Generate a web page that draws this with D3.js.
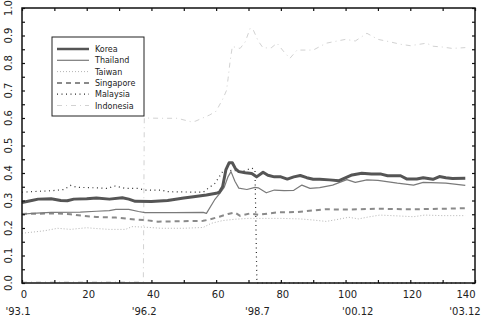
<!DOCTYPE html>
<html>
<head>
<meta charset="utf-8">
<script src="https://cdn.jsdelivr.net/npm/d3@7/dist/d3.min.js"></script>
<style>
  html, body { margin: 0; padding: 0; background: #fff; }
  svg { display: block; }
  text { font-family: "DejaVu Sans", sans-serif; fill: #222; }
</style>
</head>
<body>
<svg id="chart" width="485" height="322"></svg>
<script>
// Monthly index values, month 0 = 1993.1
const korea = [[0,0.293],[3,0.300],[5,0.305],[9,0.306],[12,0.300],[14,0.299],[16,0.305],[20,0.306],[23,0.309],[27,0.305],[31,0.310],[33,0.305],[35,0.297],[40,0.296],[45,0.300],[50,0.309],[53,0.314],[57,0.320],[60,0.326],[61,0.330],[62,0.350],[63,0.411],[64,0.437],[65,0.437],[66,0.415],[67,0.405],[69,0.401],[71,0.398],[72.5,0.386],[74.5,0.403],[76,0.392],[78,0.386],[80,0.386],[82,0.378],[84,0.386],[86,0.391],[88,0.383],[90,0.377],[92,0.377],[95,0.375],[98,0.372],[102,0.393],[105,0.399],[108,0.396],[111,0.396],[113,0.390],[117,0.390],[119,0.378],[122,0.378],[124,0.383],[127,0.377],[129,0.387],[131,0.383],[133,0.380],[137,0.381]];
const thailand = [[0,0.250],[3,0.253],[9,0.257],[18,0.258],[23,0.261],[27,0.263],[29,0.268],[33,0.268],[36,0.260],[38,0.256],[47,0.256],[56,0.257],[57,0.253],[59.5,0.302],[61,0.324],[62.5,0.348],[63.7,0.387],[64.6,0.405],[65.8,0.370],[67,0.345],[69.5,0.340],[72,0.348],[73,0.346],[75.5,0.328],[78,0.338],[81,0.336],[84,0.337],[86.5,0.356],[89,0.344],[92,0.347],[96,0.356],[100.4,0.376],[103,0.366],[106.6,0.375],[110,0.373],[116,0.363],[121,0.356],[124,0.366],[131,0.363],[137,0.355]];
const taiwan = [[0,0.181],[4,0.186],[7,0.190],[11,0.199],[15,0.195],[20,0.201],[23,0.198],[27,0.195],[32,0.195],[34,0.205],[38,0.203],[43,0.199],[50,0.199],[56,0.202],[58.5,0.217],[62,0.227],[66,0.232],[70,0.235],[80,0.235],[86,0.233],[90,0.229],[94,0.224],[97,0.230],[101,0.239],[104,0.233],[107,0.240],[110.6,0.247],[116,0.244],[121,0.241],[124.5,0.247],[130,0.245],[137,0.245]];
const singapore = [[0,0.251],[4,0.252],[10,0.253],[15,0.250],[19,0.244],[23,0.240],[29,0.238],[35,0.231],[38,0.229],[42,0.223],[46,0.224],[56,0.226],[58,0.231],[61,0.241],[63.7,0.251],[65.8,0.256],[67.4,0.244],[70.5,0.253],[73,0.248],[79,0.257],[85,0.258],[93.6,0.268],[100,0.267],[110,0.270],[120,0.268],[130,0.270],[137,0.272]];
const malaysia = [[0,0.330],[3,0.332],[9.6,0.336],[13,0.340],[15,0.355],[17,0.348],[23,0.346],[26.6,0.344],[28.5,0.353],[32,0.344],[36,0.344],[38,0.338],[43,0.338],[45,0.332],[56,0.330],[57.5,0.344],[59.6,0.362],[61,0.387],[62,0.405],[65,0.410],[68,0.405],[71,0.418],[72,0.412],[72.6,0],[137,0]];
const indonesia = [[0,0.004],[37.5,0.004],[37.8,0.600],[42.6,0.599],[48,0.599],[52,0.587],[53.5,0.588],[58,0.611],[60,0.625],[62,0.668],[63.2,0.700],[63.7,0.744],[64.3,0.805],[65,0.860],[67.4,0.853],[69,0.877],[70.5,0.926],[71.4,0.922],[73,0.880],[74.5,0.855],[77,0.855],[78.8,0.872],[81,0.840],[82.8,0.817],[85,0.847],[90,0.847],[94,0.872],[100,0.886],[103,0.880],[106.6,0.908],[110,0.886],[113.7,0.877],[117,0.868],[120,0.863],[125,0.872],[127,0.861],[130,0.858],[133,0.853],[137,0.856]];

const xTicks = [0, 20, 40, 60, 80, 100, 120, 140];
const yTicks = [0.0, 0.1, 0.2, 0.3, 0.4, 0.5, 0.6, 0.7, 0.8, 0.9, 1.0];
const dateLabels = ["'93.1", "'96.2", "'98.7", "'00.12", "'03.12"];
const dateLabelAt = [0, 39, 74, 105, 138.5];

const series = [
  { name: "Korea",     data: korea,     color: "#555555", width: 3,   dash: null },
  { name: "Thailand",  data: thailand,  color: "#7a7a7a", width: 1.2, dash: null },
  { name: "Taiwan",    data: taiwan,    color: "#b4b4b4", width: 1,   dash: "1,2" },
  { name: "Singapore", data: singapore, color: "#8a8a8a", width: 2,   dash: "5,4" },
  { name: "Malaysia",  data: malaysia,  color: "#2a2a2a", width: 1.2, dash: "1,3.5" },
  { name: "Indonesia", data: indonesia, color: "#d2d2d2", width: 1,   dash: "5,4,1,4" }
];

const plotL = 22, plotR = 475, plotT = 8, plotB = 283;
const svg = d3.select("#chart");

const x = d3.scaleLinear().domain([0, 140]).range([plotL, plotR]);
const y = d3.scaleLinear().domain([0, 1]).range([plotB, plotT]);

// series lines
const line = d3.line().x(d => x(d[0])).y(d => y(d[1]));
svg.append("g").selectAll("path").data(series.slice().reverse()).join("path")
  .attr("d", s => line(s.data))
  .attr("fill", "none")
  .attr("stroke", s => s.color)
  .attr("stroke-width", s => s.width)
  .attr("stroke-dasharray", s => s.dash)
  .attr("stroke-linejoin", "round");

// inward ticks on all four sides
const minorY = d3.range(0, 1.0001, 0.05);
const minorX = d3.range(0, 140.001, 10);
svg.append("g").attr("transform", `translate(${plotL},0)`)
  .call(d3.axisRight(y).tickValues(minorY).tickSize(3).tickFormat(""))
  .call(g => g.select(".domain").remove());
svg.append("g").attr("transform", `translate(${plotR},0)`)
  .call(d3.axisLeft(y).tickValues(minorY).tickSize(3).tickFormat(""))
  .call(g => g.select(".domain").remove());
svg.append("g").attr("transform", `translate(0,${plotT})`)
  .call(d3.axisBottom(x).tickValues(minorX).tickSize(3).tickFormat(""))
  .call(g => g.select(".domain").remove());
svg.append("g").attr("transform", `translate(0,${plotB})`)
  .call(d3.axisTop(x).tickValues(minorX).tickSize(3).tickFormat(""))
  .call(g => g.select(".domain").remove());
svg.selectAll(".tick line").attr("stroke", "#111").attr("stroke-width", 1.2);

// frame
svg.append("rect")
  .attr("x", plotL).attr("y", plotT)
  .attr("width", plotR - plotL).attr("height", plotB - plotT)
  .attr("fill", "none").attr("stroke", "#111").attr("stroke-width", 1.5);

// y tick labels, rotated
svg.append("g").selectAll("text").data(yTicks).join("text")
  .attr("transform", d => `translate(12,${y(d)}) rotate(-90)`)
  .attr("text-anchor", "middle")
  .attr("font-size", 10)
  .text(d => d.toFixed(1));

// x tick labels
svg.append("g").selectAll("text").data(xTicks).join("text")
  .attr("x", d => Math.min(x(d) + 2, 466)).attr("y", 298)
  .attr("text-anchor", "middle")
  .attr("font-size", 10)
  .text(d => d);

// date labels
svg.append("g").selectAll("text").data(dateLabels).join("text")
  .attr("x", (d, i) => Math.min(x(dateLabelAt[i]) - 4, 465)).attr("y", 315)
  .attr("text-anchor", "middle")
  .attr("font-size", 10)
  .text(d => d);

// legend
const lg = svg.append("g");
lg.append("rect").attr("x", 52).attr("y", 37).attr("width", 92).attr("height", 79)
  .attr("fill", "#fff").attr("stroke", "#222").attr("stroke-width", 1);
const rows = lg.selectAll("g").data(series).join("g")
  .attr("transform", (d, i) => `translate(0,${49 + i * 11.3})`);
rows.append("line").attr("x1", 57).attr("x2", 89)
  .attr("stroke", d => d.color)
  .attr("stroke-width", d => Math.min(d.width, 2.5))
  .attr("stroke-dasharray", d => d.dash);
rows.append("text").attr("x", 95).attr("y", 3)
  .attr("font-size", 8)
  .text(d => d.name);
</script>
</body>
</html>
